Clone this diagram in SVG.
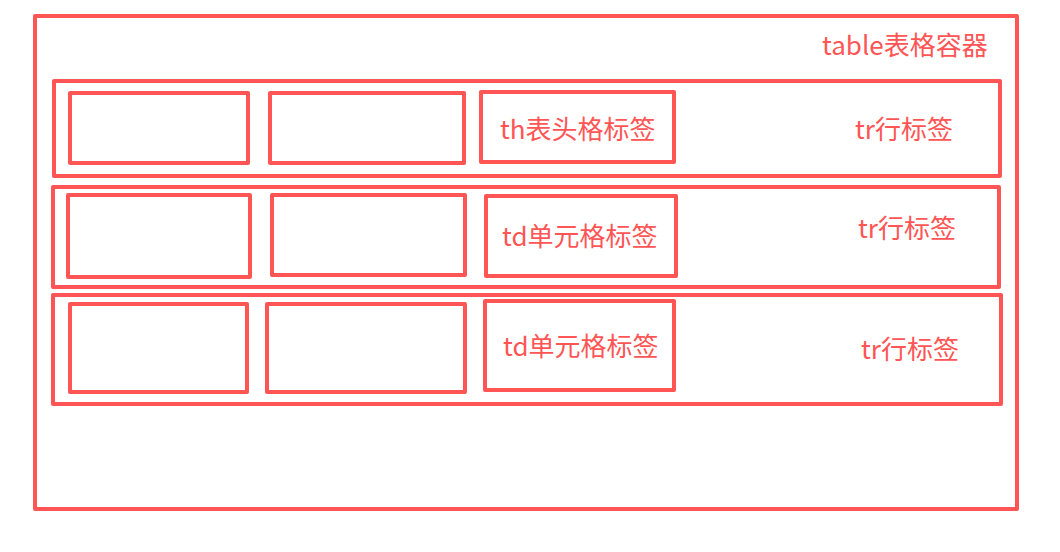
<svg xmlns="http://www.w3.org/2000/svg" width="1060" height="552" viewBox="0 0 1060 552">
<style>
.b{fill:none;stroke:#FF5555;stroke-width:4;stroke-linejoin:round}
.t{fill:#FF5555;font-family:"Noto Sans CJK SC","Noto Sans",sans-serif;font-size:26px}
</style>
<rect width="1060" height="552" fill="#FFFFFF"/>
<g id="table">
<rect class="b" x="35" y="16" width="982" height="493"/>
<text class="t" x="822" y="55">table表格容器</text>
</g>
<g id="tr1">
<rect class="b" x="54" y="81" width="946" height="95"/>
<text class="t" x="855" y="139">tr行标签</text>
</g>
<g id="tr1-c1"><rect class="b" x="70" y="93" width="178" height="70"/></g>
<g id="tr1-c2"><rect class="b" x="270" y="93" width="194" height="70"/></g>
<g id="th"><rect class="b" x="481" y="92" width="193" height="70"/>
<text class="t" x="500" y="139">th表头格标签</text></g>
<g id="tr2">
<rect class="b" x="53" y="187" width="946" height="100"/>
<text class="t" x="858" y="238">tr行标签</text>
</g>
<g id="tr2-c1"><rect class="b" x="68" y="195" width="182" height="82"/></g>
<g id="tr2-c2"><rect class="b" x="272" y="195" width="193" height="80"/></g>
<g id="td1"><rect class="b" x="486" y="196" width="190" height="80"/>
<text class="t" x="502" y="246">td单元格标签</text></g>
<g id="tr3">
<rect class="b" x="53" y="295" width="948" height="109"/>
<text class="t" x="861" y="359">tr行标签</text>
</g>
<g id="tr3-c1"><rect class="b" x="70" y="304" width="177" height="88"/></g>
<g id="tr3-c2"><rect class="b" x="267" y="304" width="198" height="88"/></g>
<g id="td2"><rect class="b" x="485" y="301" width="189" height="89"/>
<text class="t" x="503" y="356">td单元格标签</text></g>
<g id="connectors"/>
</svg>
